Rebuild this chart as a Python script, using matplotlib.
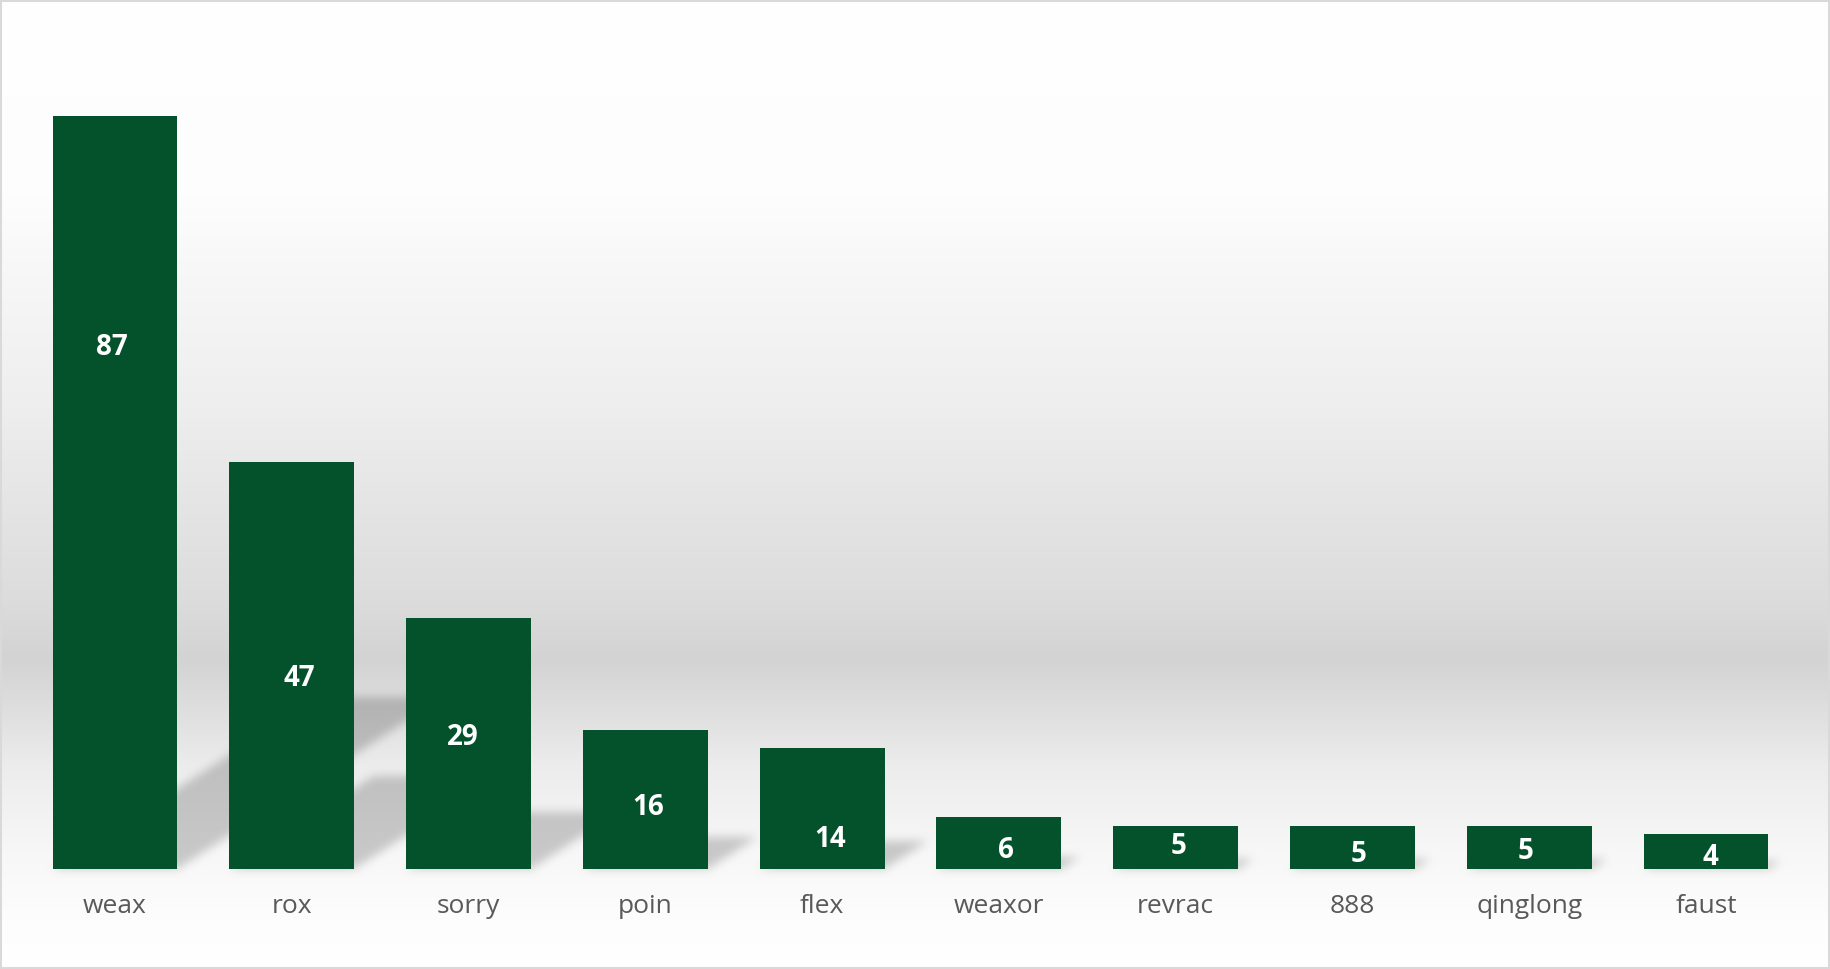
import matplotlib

matplotlib.use("Agg")
import matplotlib.pyplot as plt
import numpy as np
from matplotlib.patches import Rectangle

NAMES = ["weax", "rox", "sorry", "poin", "flex", "weaxor", "revrac", "888", "qinglong", "faust"]
COUNTS = [87, 47, 29, 16, 14, 6, 5, 5, 5, 4]

# where the data labels sit (in value units above the base) and a small sideways nudge in px
LABEL_Y = [60.6, 22.4, 15.5, 7.5, 3.8, 2.5, 2.9, 2.0, 2.4, 1.7]
LABEL_DX = [-3, 8, -6, 3, 8, 7, 3, 6, -4, 4]

W, H, DPI = 1830, 969, 100
BAR_COLOR = "#04522c"
BAR_WIDTH = 0.706
FONT = ["Open Sans", "DejaVu Sans"]

# background gradient, fraction of height from the top -> grey level
GRAD_POS = [0.0, 0.20, 0.31, 0.42, 0.53, 0.62, 0.68, 0.74, 0.79, 0.88, 0.95, 1.0]
GRAD_VAL = [255, 253, 245, 238, 228, 220, 211, 224, 236, 247, 253, 255]

# perspective shadow: top of the shadow rises by DROP*value and slides right by SKEW*value
SHADOW_DROP = 0.228
SHADOW_SKEW = 0.0173
SHADOW_DARK = 0.19


def _box_blur(a: np.ndarray, r: int) -> np.ndarray:
    k = 2 * r + 1
    for axis in (0, 1):
        pad = [(0, 0), (0, 0)]
        pad[axis] = (r + 1, r)
        c = np.cumsum(np.pad(a, pad, mode="edge"), axis=axis)
        if axis == 0:
            a = (c[k:] - c[:-k]) / k
        else:
            a = (c[:, k:] - c[:, :-k]) / k
    return a


def _shadow_mask(ax, xs, vals) -> np.ndarray:
    mask = np.zeros((H, W))
    rows = np.arange(H)[:, None] + 0.5
    cols = np.arange(W)[None, :] + 0.5
    half = BAR_WIDTH / 2
    for x, v in zip(xs, vals):
        pts = ax.transData.transform(
            [(x - half, 0), (x + half, 0), (x - half + SHADOW_SKEW * v, SHADOW_DROP * v)]
        )
        (left, base), (right, _), (left_top, top) = pts
        base_row, top_row = H - base, H - top
        frac = (base_row - rows) / (base_row - top_row)
        shift = frac * (left_top - left)
        inside = (frac >= 0) & (frac <= 1) & (cols >= left + shift) & (cols <= right + shift)
        mask = np.maximum(mask, inside.astype(float))
    for _ in range(3):
        mask = _box_blur(mask, 4)
    return mask


fig = plt.figure(figsize=(W / DPI, H / DPI), dpi=DPI)
bg = fig.add_axes([0, 0, 1, 1])
bg.axis("off")

ax = fig.add_axes([26.6 / W, 100 / H, 1767.8 / W, 866 / H])
ax.set_facecolor("none")
ax.set_xlim(-0.5, len(NAMES) - 0.5)
ax.set_ylim(0, 100)

xs = np.arange(len(NAMES))
ax.bar(xs, COUNTS, width=BAR_WIDTH, color=BAR_COLOR, zorder=3)

for x, v, ly, dx in zip(xs, COUNTS, LABEL_Y, LABEL_DX):
    ax.annotate(
        str(v), (x, ly), xytext=(dx, -3), textcoords="offset pixels",
        ha="center", va="center", color="white", fontsize=20, fontweight="bold",
        family=FONT, zorder=4,
    )

ax.set_xticks(xs)
ax.set_xticklabels(NAMES, family=FONT)
ax.tick_params(axis="x", length=0, pad=18, labelsize=19, labelcolor="#595959")
ax.set_yticks([])
for spine in ax.spines.values():
    spine.set_visible(False)

grey = np.interp(np.linspace(0, 1, H), GRAD_POS, GRAD_VAL) / 255.0
shade = 1 - SHADOW_DARK * _shadow_mask(ax, xs, COUNTS)
img = grey[:, None] * shade
bg.imshow(np.dstack([img, img, img]), extent=(0, W, H, 0), aspect="auto", interpolation="nearest")
bg.set_xlim(0, W)
bg.set_ylim(H, 0)

fig.patches.append(
    Rectangle((0, 0), 1, 1, transform=fig.transFigure, fill=False, edgecolor="#d9d9d9", linewidth=2.9)
)

fig.savefig("out.png", dpi=DPI)
